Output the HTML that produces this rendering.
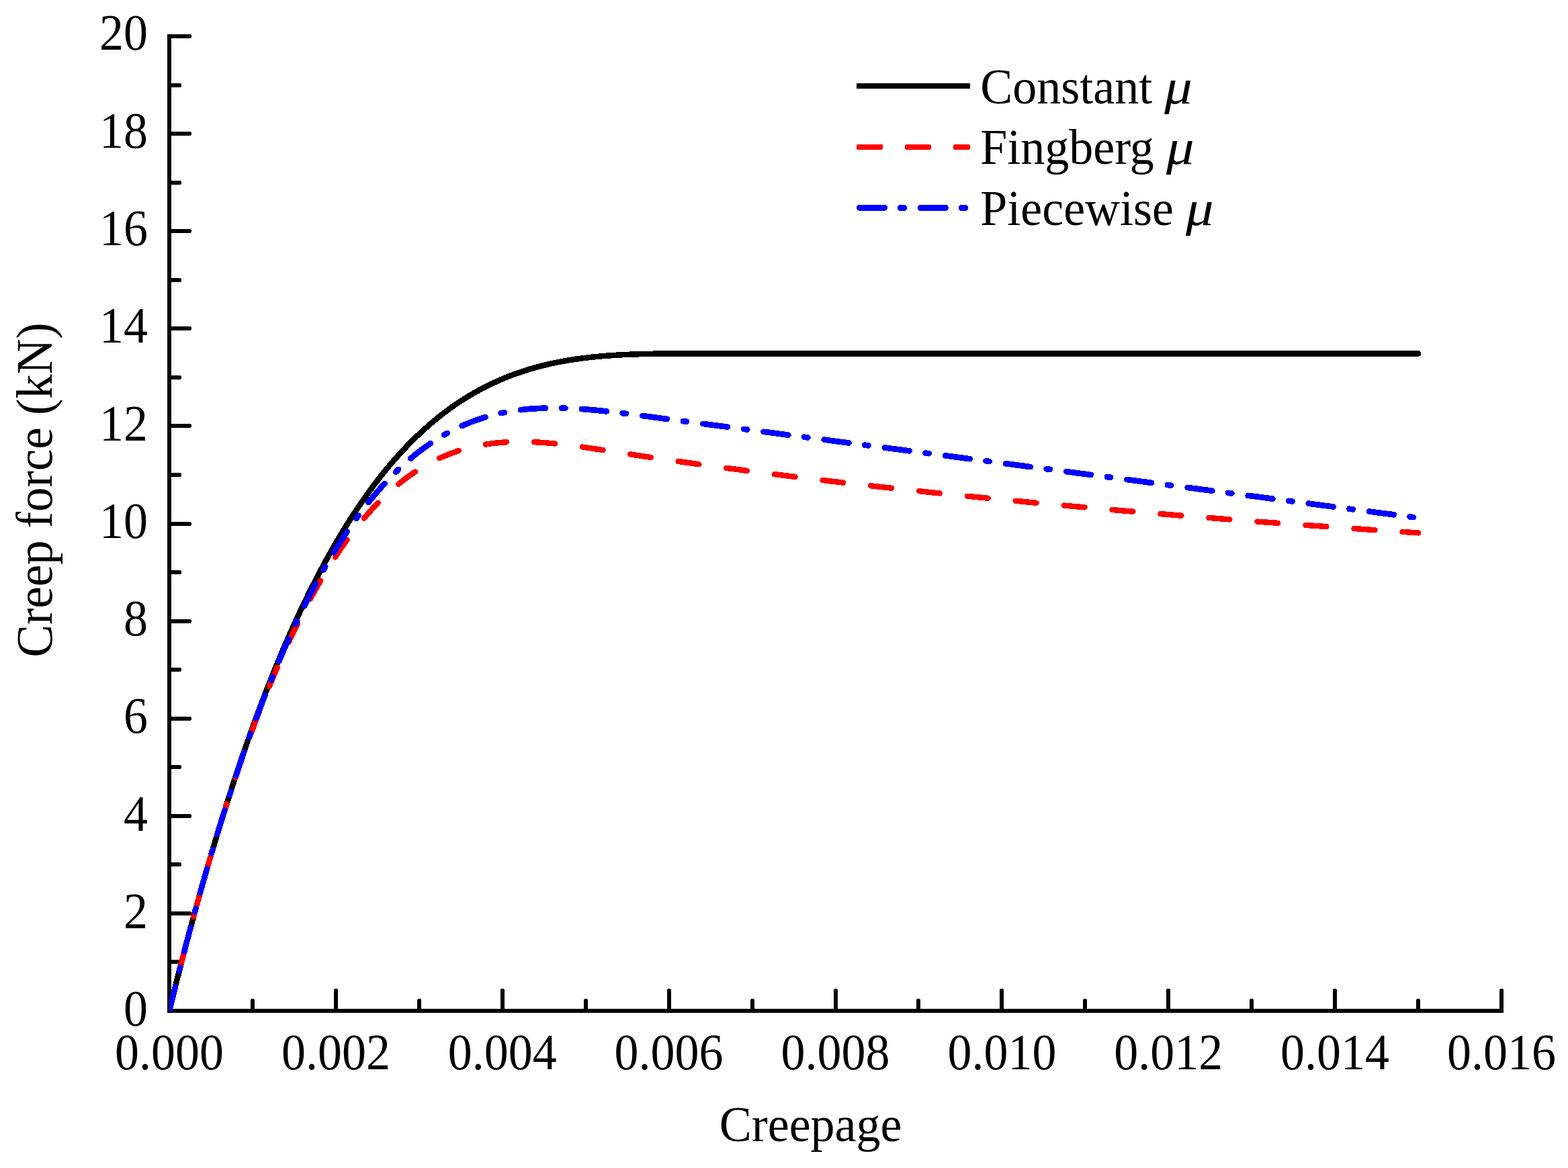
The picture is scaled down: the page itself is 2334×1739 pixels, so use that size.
<!DOCTYPE html>
<html lang="en"><head><meta charset="utf-8"><title>Creep force vs creepage</title>
<style>html,body{margin:0;padding:0;background:#fff;}body{width:2334px;height:1739px;overflow:hidden;}svg{display:block;}text{font-family:"Liberation Serif","Times New Roman",Times,serif;font-size:72px;fill:#000;}.it{font-style:italic;}</style></head><body>
<svg width="2334" height="1739" viewBox="0 0 2334 1739" role="img" aria-label="Creep force versus creepage for three friction models">
<rect x="0" y="0" width="2334" height="1739" fill="#fff"/>
<g fill="#000" shape-rendering="crispEdges">
<rect x="249" y="51" width="6" height="1457"/>
<rect x="249" y="1502" width="1989" height="6"/>
<rect x="255" y="1429" width="14" height="6"/>
<rect x="269" y="1430" width="1" height="4"/>
<rect x="255" y="1357" width="29" height="6"/>
<rect x="284" y="1358" width="1" height="4"/>
<rect x="255" y="1284" width="14" height="6"/>
<rect x="269" y="1285" width="1" height="4"/>
<rect x="255" y="1212" width="29" height="6"/>
<rect x="284" y="1213" width="1" height="4"/>
<rect x="255" y="1139" width="14" height="6"/>
<rect x="269" y="1140" width="1" height="4"/>
<rect x="255" y="1067" width="29" height="6"/>
<rect x="284" y="1068" width="1" height="4"/>
<rect x="255" y="994" width="14" height="6"/>
<rect x="269" y="995" width="1" height="4"/>
<rect x="255" y="922" width="29" height="6"/>
<rect x="284" y="923" width="1" height="4"/>
<rect x="255" y="849" width="14" height="6"/>
<rect x="269" y="850" width="1" height="4"/>
<rect x="255" y="777" width="29" height="6"/>
<rect x="284" y="778" width="1" height="4"/>
<rect x="255" y="704" width="14" height="6"/>
<rect x="269" y="705" width="1" height="4"/>
<rect x="255" y="631" width="29" height="6"/>
<rect x="284" y="632" width="1" height="4"/>
<rect x="255" y="559" width="14" height="6"/>
<rect x="269" y="560" width="1" height="4"/>
<rect x="255" y="486" width="29" height="6"/>
<rect x="284" y="487" width="1" height="4"/>
<rect x="255" y="414" width="14" height="6"/>
<rect x="269" y="415" width="1" height="4"/>
<rect x="255" y="341" width="29" height="6"/>
<rect x="284" y="342" width="1" height="4"/>
<rect x="255" y="269" width="14" height="6"/>
<rect x="269" y="270" width="1" height="4"/>
<rect x="255" y="196" width="29" height="6"/>
<rect x="284" y="197" width="1" height="4"/>
<rect x="255" y="124" width="14" height="6"/>
<rect x="269" y="125" width="1" height="4"/>
<rect x="255" y="51" width="29" height="6"/>
<rect x="284" y="52" width="1" height="4"/>
<rect x="373" y="1488" width="6" height="14"/>
<rect x="374" y="1487" width="4" height="1"/>
<rect x="497" y="1473" width="6" height="29"/>
<rect x="498" y="1472" width="4" height="1"/>
<rect x="621" y="1488" width="6" height="14"/>
<rect x="622" y="1487" width="4" height="1"/>
<rect x="745" y="1473" width="6" height="29"/>
<rect x="746" y="1472" width="4" height="1"/>
<rect x="869" y="1488" width="6" height="14"/>
<rect x="870" y="1487" width="4" height="1"/>
<rect x="993" y="1473" width="6" height="29"/>
<rect x="994" y="1472" width="4" height="1"/>
<rect x="1117" y="1488" width="6" height="14"/>
<rect x="1118" y="1487" width="4" height="1"/>
<rect x="1241" y="1473" width="6" height="29"/>
<rect x="1242" y="1472" width="4" height="1"/>
<rect x="1364" y="1488" width="6" height="14"/>
<rect x="1365" y="1487" width="4" height="1"/>
<rect x="1488" y="1473" width="6" height="29"/>
<rect x="1489" y="1472" width="4" height="1"/>
<rect x="1612" y="1488" width="6" height="14"/>
<rect x="1613" y="1487" width="4" height="1"/>
<rect x="1736" y="1473" width="6" height="29"/>
<rect x="1737" y="1472" width="4" height="1"/>
<rect x="1860" y="1488" width="6" height="14"/>
<rect x="1861" y="1487" width="4" height="1"/>
<rect x="1984" y="1473" width="6" height="29"/>
<rect x="1985" y="1472" width="4" height="1"/>
<rect x="2108" y="1488" width="6" height="14"/>
<rect x="2109" y="1487" width="4" height="1"/>
<rect x="2232" y="1473" width="6" height="29"/>
<rect x="2233" y="1472" width="4" height="1"/>
</g>
<g text-anchor="end">
<text transform="translate(220.0,1527.2) scale(1,1.055)">0</text>
<text transform="translate(220.0,1382.0) scale(1,1.055)">2</text>
<text transform="translate(220.0,1236.7) scale(1,1.055)">4</text>
<text transform="translate(220.0,1091.4) scale(1,1.055)">6</text>
<text transform="translate(220.0,946.1) scale(1,1.055)">8</text>
<text transform="translate(220.0,800.9) scale(1,1.055)">10</text>
<text transform="translate(220.0,655.6) scale(1,1.055)">12</text>
<text transform="translate(220.0,510.3) scale(1,1.055)">14</text>
<text transform="translate(220.0,365.0) scale(1,1.055)">16</text>
<text transform="translate(220.0,219.7) scale(1,1.055)">18</text>
<text transform="translate(220.0,74.4) scale(1,1.055)">20</text>
</g><g text-anchor="middle">
<text transform="translate(252.0,1592.0) scale(1,1.055)">0.000</text>
<text transform="translate(499.9,1592.0) scale(1,1.055)">0.002</text>
<text transform="translate(747.8,1592.0) scale(1,1.055)">0.004</text>
<text transform="translate(995.6,1592.0) scale(1,1.055)">0.006</text>
<text transform="translate(1243.5,1592.0) scale(1,1.055)">0.008</text>
<text transform="translate(1491.4,1592.0) scale(1,1.055)">0.010</text>
<text transform="translate(1739.2,1592.0) scale(1,1.055)">0.012</text>
<text transform="translate(1987.1,1592.0) scale(1,1.055)">0.014</text>
<text transform="translate(2235.0,1592.0) scale(1,1.055)">0.016</text>
</g>
<text transform="translate(1206.6,1699.4) scale(1,1.04)" text-anchor="middle">Creepage</text>
<text transform="translate(76.7,729.5) rotate(-90) scale(1,1.03)" text-anchor="middle" style="font-size:73px">Creep force (kN)</text>
<clipPath id="plotclip"><rect x="252" y="0" width="2082" height="1506"/></clipPath>
<g fill="none" stroke-linejoin="round" clip-path="url(#plotclip)" shape-rendering="crispEdges">
<path d="M252.0,1505.3 L255.1,1492.7 L258.2,1480.1 L261.3,1467.7 L264.4,1455.4 L267.5,1443.2 L270.6,1431.1 L273.7,1419.2 L276.8,1407.3 L279.9,1395.6 L283.0,1383.9 L286.1,1372.4 L289.2,1361.0 L292.3,1349.7 L295.4,1338.5 L298.5,1327.4 L301.6,1316.4 L304.7,1305.5 L307.8,1294.8 L310.9,1284.1 L314.0,1273.5 L317.1,1263.1 L320.2,1252.7 L323.3,1242.4 L326.4,1232.3 L329.5,1222.2 L332.6,1212.3 L335.7,1202.4 L338.8,1192.7 L341.9,1183.0 L345.0,1173.5 L348.1,1164.0 L351.1,1154.6 L354.2,1145.4 L357.3,1136.2 L360.4,1127.1 L363.5,1118.2 L366.6,1109.3 L369.7,1100.5 L372.8,1091.8 L375.9,1083.2 L379.0,1074.7 L382.1,1066.2 L385.2,1057.9 L388.3,1049.7 L391.4,1041.5 L394.5,1033.5 L397.6,1025.5 L400.7,1017.6 L403.8,1009.8 L406.9,1002.1 L410.0,994.5 L413.1,986.9 L416.2,979.5 L419.3,972.1 L422.4,964.8 L425.5,957.6 L428.6,950.5 L431.7,943.5 L434.8,936.5 L437.9,929.6 L441.0,922.9 L444.1,916.1 L447.2,909.5 L450.3,903.0 L453.4,896.5 L456.5,890.1 L459.6,883.8 L462.7,877.5 L465.8,871.4 L468.9,865.3 L472.0,859.3 L475.1,853.4 L478.2,847.5 L481.3,841.7 L484.4,836.0 L487.5,830.4 L490.6,824.8 L493.7,819.3 L496.8,813.9 L499.9,808.5 L503.0,803.2 L506.1,798.0 L509.2,792.9 L512.3,787.8 L515.4,782.8 L518.5,777.8 L521.6,773.0 L524.7,768.1 L527.8,763.4 L530.9,758.7 L534.0,754.1 L537.1,749.6 L540.2,745.1 L543.3,740.7 L546.4,736.3 L549.5,732.0 L552.5,727.8 L555.6,723.6 L558.7,719.5 L561.8,715.4 L564.9,711.5 L568.0,707.5 L571.1,703.7 L574.2,699.8 L577.3,696.1 L580.4,692.4 L583.5,688.7 L586.6,685.2 L589.7,681.6 L592.8,678.1 L595.9,674.7 L599.0,671.4 L602.1,668.0 L605.2,664.8 L608.3,661.6 L611.4,658.4 L614.5,655.3 L617.6,652.3 L620.7,649.3 L623.8,646.3 L626.9,643.4 L630.0,640.6 L633.1,637.8 L636.2,635.0 L639.3,632.3 L642.4,629.7 L645.5,627.1 L648.6,624.5 L651.7,622.0 L654.8,619.5 L657.9,617.1 L661.0,614.7 L664.1,612.4 L667.2,610.1 L670.3,607.8 L673.4,605.6 L676.5,603.4 L679.6,601.3 L682.7,599.2 L685.8,597.2 L688.9,595.2 L692.0,593.2 L695.1,591.3 L698.2,589.4 L701.3,587.6 L704.4,585.8 L707.5,584.0 L710.6,582.3 L713.7,580.6 L716.8,578.9 L719.9,577.3 L723.0,575.7 L726.1,574.1 L729.2,572.6 L732.3,571.1 L735.4,569.7 L738.5,568.3 L741.6,566.9 L744.7,565.5 L747.8,564.2 L750.8,562.9 L753.9,561.7 L757.0,560.4 L760.1,559.2 L763.2,558.1 L766.3,556.9 L769.4,555.8 L772.5,554.7 L775.6,553.7 L778.7,552.7 L781.8,551.7 L784.9,550.7 L788.0,549.8 L791.1,548.8 L794.2,548.0 L797.3,547.1 L800.4,546.2 L803.5,545.4 L806.6,544.6 L809.7,543.9 L812.8,543.1 L815.9,542.4 L819.0,541.7 L822.1,541.0 L825.2,540.3 L828.3,539.7 L831.4,539.1 L834.5,538.5 L837.6,537.9 L840.7,537.4 L843.8,536.8 L846.9,536.3 L850.0,535.8 L853.1,535.3 L856.2,534.8 L859.3,534.4 L862.4,534.0 L865.5,533.5 L868.6,533.2 L871.7,532.8 L874.8,532.4 L877.9,532.0 L881.0,531.7 L884.1,531.4 L887.2,531.1 L890.3,530.8 L893.4,530.5 L896.5,530.2 L899.6,530.0 L902.7,529.7 L905.8,529.5 L908.9,529.3 L912.0,529.1 L915.1,528.9 L918.2,528.7 L921.3,528.5 L924.4,528.3 L927.5,528.2 L930.6,528.0 L933.7,527.9 L936.8,527.8 L939.9,527.6 L943.0,527.5 L946.0,527.4 L949.1,527.3 L952.2,527.2 L955.3,527.1 L958.4,527.1 L961.5,527.0 L964.6,526.9 L967.7,526.9 L970.8,526.8 L973.9,526.7 L977.0,526.7 L980.1,526.7 L983.2,526.6 L986.3,526.6 L989.4,526.6 L992.5,526.5 L995.6,526.5 L998.7,526.5 L1001.8,526.5 L1004.9,526.5 L1008.0,526.4 L1011.1,526.4 L1014.2,526.4 L1017.3,526.4 L1020.4,526.4 L1023.5,526.4 L1026.6,526.4 L1029.7,526.4 L1032.8,526.4 L1035.9,526.4 L1039.0,526.4 L1042.1,526.4 L1045.2,526.4 L1048.3,526.4 L1051.4,526.4 L1054.5,526.4 L1057.6,526.4 L1060.7,526.4 L1063.8,526.4 L1066.9,526.4 L1070.0,526.4 L1073.1,526.4 L1076.2,526.4 L1079.3,526.4 L1082.4,526.4 L1085.5,526.4 L1088.6,526.4 L1091.7,526.4 L1094.8,526.4 L1097.9,526.4 L1101.0,526.4 L1104.1,526.4 L1107.2,526.4 L1110.3,526.4 L1113.4,526.4 L1116.5,526.4 L1119.6,526.4 L1132.0,526.4 L1144.3,526.4 L1156.7,526.4 L1169.1,526.4 L1181.5,526.4 L1193.9,526.4 L1206.3,526.4 L1218.7,526.4 L1231.1,526.4 L1243.5,526.4 L1255.9,526.4 L1268.3,526.4 L1280.7,526.4 L1293.1,526.4 L1305.5,526.4 L1317.9,526.4 L1330.3,526.4 L1342.7,526.4 L1355.0,526.4 L1367.4,526.4 L1379.8,526.4 L1392.2,526.4 L1404.6,526.4 L1417.0,526.4 L1429.4,526.4 L1441.8,526.4 L1454.2,526.4 L1466.6,526.4 L1479.0,526.4 L1491.4,526.4 L1503.8,526.4 L1516.2,526.4 L1528.6,526.4 L1540.9,526.4 L1553.3,526.4 L1565.7,526.4 L1578.1,526.4 L1590.5,526.4 L1602.9,526.4 L1615.3,526.4 L1627.7,526.4 L1640.1,526.4 L1652.5,526.4 L1664.9,526.4 L1677.3,526.4 L1689.7,526.4 L1702.1,526.4 L1714.5,526.4 L1726.9,526.4 L1739.2,526.4 L1751.6,526.4 L1764.0,526.4 L1776.4,526.4 L1788.8,526.4 L1801.2,526.4 L1813.6,526.4 L1826.0,526.4 L1838.4,526.4 L1850.8,526.4 L1863.2,526.4 L1875.6,526.4 L1888.0,526.4 L1900.4,526.4 L1912.8,526.4 L1925.2,526.4 L1937.6,526.4 L1949.9,526.4 L1962.3,526.4 L1974.7,526.4 L1987.1,526.4 L1999.5,526.4 L2011.9,526.4 L2024.3,526.4 L2036.7,526.4 L2049.1,526.4 L2061.5,526.4 L2073.9,526.4 L2086.3,526.4 L2098.7,526.4 L2111.1,526.4" stroke="#000" stroke-width="8.5" stroke-linecap="round"/>
<path d="M252.0,1505.0 L255.1,1492.4 L258.2,1479.8 L261.3,1467.4 L264.4,1455.1 L267.5,1442.9 L270.6,1430.9 L273.7,1418.9 L276.8,1407.1 L279.9,1395.3 L283.0,1383.7 L286.1,1372.2 L289.2,1360.8 L292.3,1349.5 L295.4,1338.3 L298.5,1327.3 L301.6,1316.3 L304.7,1305.5 L307.8,1294.8 L310.9,1284.2 L314.0,1273.6 L317.1,1263.3 L320.2,1253.0 L323.3,1242.8 L326.4,1232.7 L329.5,1222.7 L332.6,1212.9 L335.7,1203.1 L338.8,1193.5 L341.9,1183.9 L345.0,1174.5 L348.1,1165.2 L351.1,1156.0 L354.2,1146.9 L357.3,1137.8 L360.4,1128.9 L363.5,1120.1 L366.6,1111.4 L369.7,1102.8 L372.8,1094.3 L375.9,1085.9 L379.0,1077.6 L382.1,1069.4 L385.2,1061.3 L388.3,1053.4 L391.4,1045.5 L394.5,1037.7 L397.6,1030.0 L400.7,1022.4 L403.8,1014.9 L406.9,1007.5 L410.0,1000.2 L413.1,992.9 L416.2,985.8 L419.3,978.8 L422.4,971.9 L425.5,965.1 L428.6,958.3 L431.7,951.7 L434.8,945.1 L437.9,938.7 L441.0,932.3 L444.1,926.0 L447.2,919.8 L450.3,913.7 L453.4,907.7 L456.5,901.8 L459.6,896.0 L462.7,890.2 L465.8,884.6 L468.9,879.0 L472.0,873.5 L475.1,868.2 L478.2,862.8 L481.3,857.6 L484.4,852.5 L487.5,847.4 L490.6,842.4 L493.7,837.6 L496.8,832.8 L499.9,828.0 L503.0,823.4 L506.1,818.8 L509.2,814.3 L512.3,809.9 L515.4,805.6 L518.5,801.3 L521.6,797.2 L524.7,793.1 L527.8,789.0 L530.9,785.1 L534.0,781.2 L537.1,777.4 L540.2,773.7 L543.3,770.1 L546.4,766.5 L549.5,763.0 L552.5,759.5 L555.6,756.2 L558.7,752.9 L561.8,749.6 L564.9,746.5 L568.0,743.4 L571.1,740.4 L574.2,737.4 L577.3,734.5 L580.4,731.7 L583.5,729.0 L586.6,726.3 L589.7,723.6 L592.8,721.1 L595.9,718.6 L599.0,716.1 L602.1,713.7 L605.2,711.4 L608.3,709.2 L611.4,707.0 L614.5,704.8 L617.6,702.7 L620.7,700.7 L623.8,698.7 L626.9,696.8 L630.0,695.0 L633.1,693.2 L636.2,691.4 L639.3,689.7 L642.4,688.1 L645.5,686.5 L648.6,684.9 L651.7,683.4 L654.8,682.0 L657.9,680.6 L661.0,679.3 L664.1,678.0 L667.2,676.7 L670.3,675.5 L673.4,674.4 L676.5,673.3 L679.6,672.2 L682.7,671.2 L685.8,670.2 L688.9,669.3 L692.0,668.4 L695.1,667.5 L698.2,666.7 L701.3,665.9 L704.4,665.2 L707.5,664.5 L710.6,663.9 L713.7,663.2 L716.8,662.7 L719.9,662.1 L723.0,661.6 L726.1,661.1 L729.2,660.7 L732.3,660.3 L735.4,659.9 L738.5,659.6 L741.6,659.3 L744.7,659.0 L747.8,658.7 L750.8,658.5 L753.9,658.3 L757.0,658.2 L760.1,658.0 L763.2,657.9 L766.3,657.8 L769.4,657.8 L772.5,657.8 L775.6,657.7 L778.7,657.8 L781.8,657.8 L784.9,657.9 L788.0,658.0 L791.1,658.1 L794.2,658.2 L797.3,658.3 L800.4,658.5 L803.5,658.7 L806.6,658.9 L809.7,659.1 L812.8,659.3 L815.9,659.6 L819.0,659.9 L822.1,660.1 L825.2,660.4 L828.3,660.7 L831.4,661.1 L834.5,661.4 L837.6,661.8 L840.7,662.1 L843.8,662.5 L846.9,662.9 L850.0,663.3 L853.1,663.7 L856.2,664.1 L859.3,664.5 L862.4,664.9 L865.5,665.3 L868.6,665.8 L871.7,666.2 L874.8,666.7 L877.9,667.1 L881.0,667.6 L884.1,668.1 L887.2,668.5 L890.3,669.0 L893.4,669.5 L896.5,669.9 L899.6,670.4 L902.7,670.9 L905.8,671.4 L908.9,671.9 L912.0,672.3 L915.1,672.8 L918.2,673.3 L921.3,673.8 L924.4,674.3 L927.5,674.7 L930.6,675.2 L933.7,675.7 L936.8,676.2 L939.9,676.6 L943.0,677.1 L946.0,677.6 L949.1,678.0 L952.2,678.5 L955.3,679.0 L958.4,679.4 L961.5,679.9 L964.6,680.3 L967.7,680.8 L970.8,681.3 L973.9,681.7 L977.0,682.2 L980.1,682.6 L983.2,683.1 L986.3,683.5 L989.4,684.0 L992.5,684.4 L995.6,684.9 L998.7,685.3 L1001.8,685.8 L1004.9,686.2 L1008.0,686.7 L1011.1,687.1 L1014.2,687.5 L1017.3,688.0 L1020.4,688.4 L1023.5,688.9 L1026.6,689.3 L1029.7,689.7 L1032.8,690.2 L1035.9,690.6 L1039.0,691.0 L1042.1,691.5 L1045.2,691.9 L1048.3,692.3 L1051.4,692.8 L1054.5,693.2 L1057.6,693.6 L1060.7,694.0 L1063.8,694.4 L1066.9,694.9 L1070.0,695.3 L1073.1,695.7 L1076.2,696.1 L1079.3,696.5 L1082.4,697.0 L1085.5,697.4 L1088.6,697.8 L1091.7,698.2 L1094.8,698.6 L1097.9,699.0 L1101.0,699.4 L1104.1,699.8 L1107.2,700.3 L1110.3,700.7 L1113.4,701.1 L1116.5,701.5 L1119.6,701.9 L1132.0,703.5 L1144.3,705.1 L1156.7,706.6 L1169.1,708.2 L1181.5,709.7 L1193.9,711.3 L1206.3,712.8 L1218.7,714.3 L1231.1,715.8 L1243.5,717.2 L1255.9,718.7 L1268.3,720.1 L1280.7,721.5 L1293.1,722.9 L1305.5,724.3 L1317.9,725.7 L1330.3,727.1 L1342.7,728.5 L1355.0,729.8 L1367.4,731.1 L1379.8,732.5 L1392.2,733.8 L1404.6,735.1 L1417.0,736.3 L1429.4,737.6 L1441.8,738.9 L1454.2,740.1 L1466.6,741.4 L1479.0,742.6 L1491.4,743.8 L1503.8,745.0 L1516.2,746.2 L1528.6,747.4 L1540.9,748.6 L1553.3,749.8 L1565.7,750.9 L1578.1,752.1 L1590.5,753.2 L1602.9,754.3 L1615.3,755.4 L1627.7,756.5 L1640.1,757.6 L1652.5,758.7 L1664.9,759.8 L1677.3,760.9 L1689.7,761.9 L1702.1,763.0 L1714.5,764.0 L1726.9,765.1 L1739.2,766.1 L1751.6,767.1 L1764.0,768.1 L1776.4,769.1 L1788.8,770.1 L1801.2,771.1 L1813.6,772.1 L1826.0,773.1 L1838.4,774.0 L1850.8,775.0 L1863.2,775.9 L1875.6,776.9 L1888.0,777.8 L1900.4,778.7 L1912.8,779.6 L1925.2,780.6 L1937.6,781.5 L1949.9,782.4 L1962.3,783.2 L1974.7,784.1 L1987.1,785.0 L1999.5,785.9 L2011.9,786.7 L2024.3,787.6 L2036.7,788.5 L2049.1,789.3 L2061.5,790.1 L2073.9,791.0 L2086.3,791.8 L2098.7,792.6 L2111.1,793.4" stroke="#f00" stroke-width="8.4" stroke-linecap="round" stroke-dasharray="31 41.22"/>
<path d="M252.0,1505.0 L255.1,1492.4 L258.2,1479.8 L261.3,1467.4 L264.4,1455.1 L267.5,1442.9 L270.6,1430.8 L273.7,1418.9 L276.8,1407.0 L279.9,1395.3 L283.0,1383.7 L286.1,1372.2 L289.2,1360.7 L292.3,1349.5 L295.4,1338.3 L298.5,1327.2 L301.6,1316.2 L304.7,1305.4 L307.8,1294.6 L310.9,1284.0 L314.0,1273.4 L317.1,1263.0 L320.2,1252.6 L323.3,1242.4 L326.4,1232.3 L329.5,1222.3 L332.6,1212.4 L335.7,1202.6 L338.8,1192.9 L341.9,1183.3 L345.0,1173.8 L348.1,1164.4 L351.1,1155.1 L354.2,1145.9 L357.3,1136.8 L360.4,1127.8 L363.5,1118.9 L366.6,1110.1 L369.7,1101.4 L372.8,1092.7 L375.9,1084.2 L379.0,1075.8 L382.1,1067.5 L385.2,1059.3 L388.3,1051.2 L391.4,1043.1 L394.5,1035.2 L397.6,1027.3 L400.7,1019.6 L403.8,1011.9 L406.9,1004.3 L410.0,996.9 L413.1,989.5 L416.2,982.2 L419.3,975.0 L422.4,967.9 L425.5,960.8 L428.6,953.9 L431.7,947.1 L434.8,940.3 L437.9,933.6 L441.0,927.0 L444.1,920.5 L447.2,914.1 L450.3,907.8 L453.4,901.5 L456.5,895.3 L459.6,889.3 L462.7,883.3 L465.8,877.3 L468.9,871.5 L472.0,865.8 L475.1,860.1 L478.2,854.5 L481.3,849.0 L484.4,843.5 L487.5,838.2 L490.6,832.9 L493.7,827.7 L496.8,822.6 L499.9,817.5 L503.0,812.6 L506.1,807.7 L509.2,802.9 L512.3,798.1 L515.4,793.4 L518.5,788.9 L521.6,784.3 L524.7,779.9 L527.8,775.5 L530.9,771.2 L534.0,766.9 L537.1,762.8 L540.2,758.7 L543.3,754.7 L546.4,750.7 L549.5,746.8 L552.5,743.0 L555.6,739.2 L558.7,735.5 L561.8,731.9 L564.9,728.3 L568.0,724.9 L571.1,721.4 L574.2,718.1 L577.3,714.8 L580.4,711.5 L583.5,708.3 L586.6,705.2 L589.7,702.2 L592.8,699.2 L595.9,696.2 L599.0,693.4 L602.1,690.6 L605.2,687.8 L608.3,685.1 L611.4,682.5 L614.5,679.9 L617.6,677.3 L620.7,674.9 L623.8,672.4 L626.9,670.1 L630.0,667.8 L633.1,665.5 L636.2,663.3 L639.3,661.2 L642.4,659.1 L645.5,657.0 L648.6,655.0 L651.7,653.1 L654.8,651.2 L657.9,649.3 L661.0,647.5 L664.1,645.8 L667.2,644.1 L670.3,642.4 L673.4,640.8 L676.5,639.3 L679.6,637.7 L682.7,636.3 L685.8,634.8 L688.9,633.5 L692.0,632.1 L695.1,630.8 L698.2,629.6 L701.3,628.3 L704.4,627.2 L707.5,626.0 L710.6,624.9 L713.7,623.9 L716.8,622.9 L719.9,621.9 L723.0,620.9 L726.1,620.0 L729.2,619.2 L732.3,618.3 L735.4,617.5 L738.5,616.8 L741.6,616.1 L744.7,615.4 L747.8,614.7 L750.8,614.1 L753.9,613.5 L757.0,612.9 L760.1,612.4 L763.2,611.9 L766.3,611.4 L769.4,611.0 L772.5,610.6 L775.6,610.2 L778.7,609.8 L781.8,609.5 L784.9,609.2 L788.0,608.9 L791.1,608.7 L794.2,608.4 L797.3,608.2 L800.4,608.1 L803.5,607.9 L806.6,607.8 L809.7,607.7 L812.8,607.6 L815.9,607.5 L819.0,607.5 L822.1,607.5 L825.2,607.5 L828.3,607.5 L831.4,607.5 L834.5,607.6 L837.6,607.6 L840.7,607.7 L843.8,607.8 L846.9,608.0 L850.0,608.1 L853.1,608.2 L856.2,608.4 L859.3,608.6 L862.4,608.8 L865.5,609.0 L868.6,609.2 L871.7,609.5 L874.8,609.7 L877.9,610.0 L881.0,610.2 L884.1,610.5 L887.2,610.8 L890.3,611.1 L893.4,611.4 L896.5,611.7 L899.6,612.1 L902.7,612.4 L905.8,612.8 L908.9,613.1 L912.0,613.5 L915.1,613.8 L918.2,614.2 L921.3,614.6 L924.4,614.9 L927.5,615.3 L930.6,615.7 L933.7,616.1 L936.8,616.5 L939.9,616.9 L943.0,617.3 L946.0,617.7 L949.1,618.1 L952.2,618.5 L955.3,618.9 L958.4,619.3 L961.5,619.7 L964.6,620.1 L967.7,620.5 L970.8,620.9 L973.9,621.3 L977.0,621.7 L980.1,622.2 L983.2,622.6 L986.3,623.0 L989.4,623.4 L992.5,623.8 L995.6,624.2 L998.7,624.6 L1001.8,625.0 L1004.9,625.4 L1008.0,625.8 L1011.1,626.2 L1014.2,626.6 L1017.3,627.1 L1020.4,627.5 L1023.5,627.9 L1026.6,628.3 L1029.7,628.7 L1032.8,629.1 L1035.9,629.5 L1039.0,629.9 L1042.1,630.3 L1045.2,630.7 L1048.3,631.1 L1051.4,631.5 L1054.5,632.0 L1057.6,632.4 L1060.7,632.8 L1063.8,633.2 L1066.9,633.6 L1070.0,634.0 L1073.1,634.4 L1076.2,634.8 L1079.3,635.2 L1082.4,635.6 L1085.5,636.0 L1088.6,636.4 L1091.7,636.9 L1094.8,637.3 L1097.9,637.7 L1101.0,638.1 L1104.1,638.5 L1107.2,638.9 L1110.3,639.3 L1113.4,639.7 L1116.5,640.1 L1119.6,640.5 L1132.0,642.2 L1144.3,643.8 L1156.7,645.4 L1169.1,647.1 L1181.5,648.7 L1193.9,650.3 L1206.3,652.0 L1218.7,653.6 L1231.1,655.2 L1243.5,656.9 L1255.9,658.5 L1268.3,660.1 L1280.7,661.8 L1293.1,663.4 L1305.5,665.0 L1317.9,666.6 L1330.3,668.3 L1342.7,669.9 L1355.0,671.5 L1367.4,673.2 L1379.8,674.8 L1392.2,676.4 L1404.6,678.1 L1417.0,679.7 L1429.4,681.3 L1441.8,683.0 L1454.2,684.6 L1466.6,686.2 L1479.0,687.9 L1491.4,689.5 L1503.8,691.1 L1516.2,692.8 L1528.6,694.4 L1540.9,696.0 L1553.3,697.7 L1565.7,699.3 L1578.1,700.9 L1590.5,702.6 L1602.9,704.2 L1615.3,705.8 L1627.7,707.5 L1640.1,709.1 L1652.5,710.7 L1664.9,712.4 L1677.3,714.0 L1689.7,715.6 L1702.1,717.3 L1714.5,718.9 L1726.9,720.5 L1739.2,722.2 L1751.6,723.8 L1764.0,725.4 L1776.4,727.1 L1788.8,728.7 L1801.2,730.3 L1813.6,732.0 L1826.0,733.6 L1838.4,735.2 L1850.8,736.9 L1863.2,738.5 L1875.6,740.1 L1888.0,741.8 L1900.4,743.4 L1912.8,745.0 L1925.2,746.7 L1937.6,748.3 L1949.9,749.9 L1962.3,751.6 L1974.7,753.2 L1987.1,754.8 L1999.5,756.5 L2011.9,758.1 L2024.3,759.7 L2036.7,761.3 L2049.1,763.0 L2061.5,764.6 L2073.9,766.2 L2086.3,767.9 L2098.7,769.5 L2111.1,771.1" stroke="#00f" stroke-width="8.7" stroke-linecap="round" stroke-dasharray="37.05 24.03 5.3 24.54"/>
</g>
<g shape-rendering="crispEdges">
<rect x="1275" y="123.8" width="169" height="8.3" rx="2" fill="#000"/>
<rect x="1275.0" y="214.8" width="39.1" height="8.3" rx="2.5" fill="#f00"/>
<rect x="1347.0" y="214.8" width="39.0" height="8.3" rx="2.5" fill="#f00"/>
<rect x="1419.0" y="214.8" width="25.0" height="8.3" rx="2.5" fill="#f00"/>
<rect x="1275.0" y="304.8" width="46.0" height="9.2" rx="4.5" fill="#00f"/>
<rect x="1335.9" y="304.8" width="14.2" height="9.2" rx="4.5" fill="#00f"/>
<rect x="1365.9" y="304.8" width="45.9" height="9.2" rx="4.5" fill="#00f"/>
<rect x="1426.7" y="304.8" width="14.4" height="9.2" rx="4.5" fill="#00f"/>
<text transform="translate(1459.2,153.6) scale(1,1.04)">Constant</text>
<text class="it" transform="translate(1733.2,153.6) scale(1.15,1.04)">μ</text>
<text transform="translate(1459.2,244.3) scale(1,1.04)">Fingberg</text>
<text class="it" transform="translate(1735.9,244.3) scale(1.15,1.04)">μ</text>
<text transform="translate(1459.2,335.0) scale(1,1.04)">Piecewise</text>
<text class="it" transform="translate(1765.1,335.0) scale(1.15,1.04)">μ</text>
</g>
</svg></body></html>
